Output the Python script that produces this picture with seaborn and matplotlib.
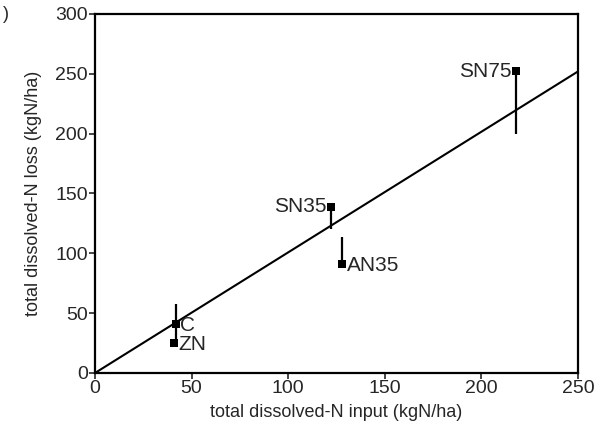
import matplotlib
matplotlib.use("Agg")
import matplotlib.pyplot as plt
import numpy as np
import pandas as pd
import seaborn as sns

# values
treatments = ["C", "ZN", "SN35", "AN35", "SN75"]
n_input = [42, 41, 122, 128, 218]
n_loss = [41, 25, 139, 91, 252]
err_low = [16, 0, 19, 0, 52]
err_high = [17, 0, 0, 23, 0]
label_side = ["right", "right", "left", "right", "left"]

line_x = [0, 250]
line_y = [0, 252]

x_ticks = [0, 50, 100, 150, 200, 250]
y_ticks = [0, 50, 100, 150, 200, 250, 300]


def main() -> None:
    sns.set_style("ticks")
    plt.rcParams["font.family"] = ["Liberation Sans", "DejaVu Sans"]

    df = pd.DataFrame({"treatment": treatments, "input": n_input, "loss": n_loss})

    fig = plt.figure(figsize=(5.99, 4.30), dpi=100)
    ax = fig.add_axes([0.1586, 0.1326, 0.8064, 0.8349])

    ax.plot(line_x, line_y, color="black", lw=1.5)

    ax.errorbar(df["input"], df["loss"], yerr=[err_low, err_high],
                fmt="none", ecolor="black", elinewidth=1.6, capsize=0)
    sns.scatterplot(data=df, x="input", y="loss", marker="s", s=30,
                    color="black", edgecolor="black", linewidth=0, ax=ax, zorder=5)

    for name, x, y, side in zip(treatments, n_input, n_loss, label_side):
        if side == "right":
            ax.annotate(name, (x, y), xytext=(3, -1), textcoords="offset points",
                        ha="left", va="center", fontsize=15)
        else:
            ax.annotate(name, (x, y), xytext=(-3, 0), textcoords="offset points",
                        ha="right", va="center", fontsize=15)

    ax.set_xlim(0, 250)
    ax.set_ylim(0, 300)
    ax.set_xticks(x_ticks)
    ax.set_yticks(y_ticks)
    ax.tick_params(direction="out", length=4, width=1.2, labelsize=14, pad=1)
    for side in ["left", "bottom", "top", "right"]:
        ax.spines[side].set_linewidth(1.6)
        ax.spines[side].set_color("black")

    ax.set_xlabel("total dissolved-N input (kgN/ha)", fontsize=13, labelpad=5)
    ax.set_ylabel("total dissolved-N loss (kgN/ha)", fontsize=13, labelpad=10)

    # scan fragment of the panel letter in the corner
    fig.text(0.005, 0.985, ")", fontsize=13, ha="left", va="top")

    fig.savefig("out.png", dpi=100)
    plt.close(fig)


if __name__ == "__main__":
    main()
